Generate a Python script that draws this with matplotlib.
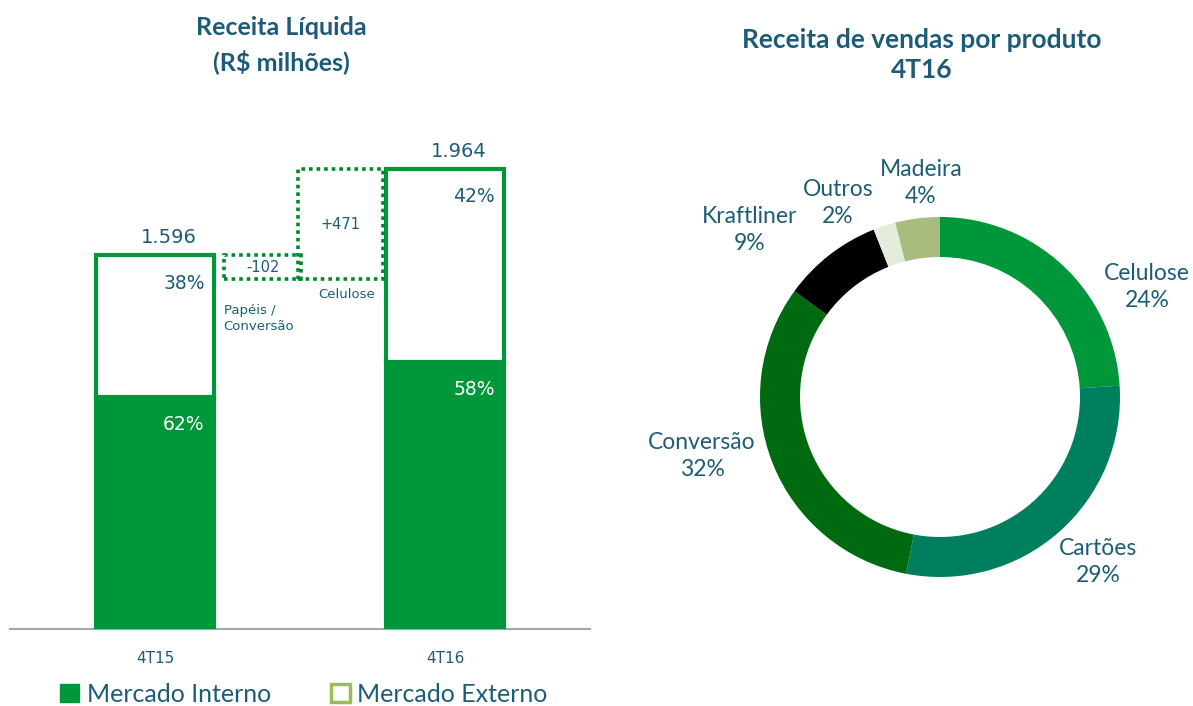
import matplotlib.pyplot as plt
from matplotlib.patches import Rectangle, Patch
import numpy as np

plt.rcParams['font.family'] = ['Lato', 'DejaVu Sans']

# bar chart data
periods = ['4T15', '4T16']
totals = [1596, 1964]
pct_interno = [62, 58]
pct_externo = [38, 42]
bridge_deltas = [-102, 471]
bridge_names = ['Papéis /\nConversão', 'Celulose']

# donut data
products = ['Celulose', 'Cartões', 'Conversão', 'Kraftliner', 'Outros', 'Madeira']
product_pct = [24, 29, 32, 9, 2, 4]
product_colors = ['#00963A', '#007F5F', '#006A10', '#000000', '#E4EDDA', '#A9BC7E']

TXT = '#1D5C78'
GREEN = '#00963A'
DOT = '#00882E'
W, H = 1193, 706

fig = plt.figure(figsize=(W / 100, H / 100), dpi=100)

# ---- left: stacked bars + bridge
ax = fig.add_axes([10 / W, 1 - 629 / H, 580 / W, 499 / H])
x = np.arange(len(periods))
interno = [t * p / 100 for t, p in zip(totals, pct_interno)]
externo = [t - i for t, i in zip(totals, interno)]
bw = 0.41
ax.bar(x, interno, bw, color=GREEN, edgecolor=GREEN, lw=3, zorder=2)
ax.bar(x, externo, bw, bottom=interno, color='white', edgecolor=GREEN, lw=3, zorder=2)

for i in range(len(periods)):
    ax.annotate(f'{totals[i]:,}'.replace(',', '.'), (x[i], totals[i]), xytext=(10, 6),
                textcoords='offset points', ha='center', va='bottom',
                fontsize=14, color=TXT, family='DejaVu Sans')
    ax.annotate(f'{pct_externo[i]}%', (x[i] + bw / 2, totals[i]), xytext=(-7, -13),
                textcoords='offset points', ha='right', va='top',
                fontsize=13.5, color=TXT, family='DejaVu Sans')
    ax.annotate(f'{pct_interno[i]}%', (x[i] + bw / 2, interno[i]), xytext=(-7, -13),
                textcoords='offset points', ha='right', va='top',
                fontsize=13.5, color='white', family='DejaVu Sans')

bridge_x = [(0.237, 0.505), (0.492, 0.785)]
running = totals[0]
for (x0, x1), d, name in zip(bridge_x, bridge_deltas, bridge_names):
    lo, hi = min(running, running + d), max(running, running + d)
    ax.add_patch(Rectangle((x0, lo), x1 - x0, hi - lo, fill=False, ec=DOT,
                           lw=2.6, ls=(0, (1, 1.1)), zorder=3))
    ax.text((x0 + x1) / 2, (lo + hi) / 2, f'{d:+d}', ha='center', va='center',
            fontsize=10.5, color=TXT, family='DejaVu Sans')
    if d < 0:
        ax.annotate(name, (x0, lo), xytext=(0, -18), textcoords='offset points',
                    ha='left', va='top', fontsize=9.5, color=TXT,
                    family='DejaVu Sans', linespacing=1.25)
    else:
        ax.annotate(name, ((x0 + x1) / 2, lo), xytext=(5, -6), textcoords='offset points',
                    ha='center', va='top', fontsize=9.5, color=TXT,
                    family='DejaVu Sans')
    running += d

ax.set_xlim(-0.5, 1.5)
ax.set_ylim(0, 2132)
ax.set_xticks(x, periods)
ax.set_yticks([])
ax.tick_params(axis='x', length=0, pad=16, labelsize=11, labelcolor=TXT)
for lab in ax.get_xticklabels():
    lab.set_family('DejaVu Sans')
for s in ['top', 'left', 'right']:
    ax.spines[s].set_visible(False)
ax.spines['bottom'].set_color('#A6A6A6')
ax.spines['bottom'].set_linewidth(1.5)
ax.spines['bottom'].set_zorder(1)

fig.text(281 / W, 1 - 45 / H, 'Receita Líquida\n(R\\$ milhões)', ha='center', va='center',
         fontsize=18, fontweight='bold', color=TXT, linespacing=1.45)

fig.legend(handles=[Patch(fc=GREEN, ec=GREEN), Patch(fc='white', ec='#9BBB59', lw=2.5)],
           labels=['Mercado Interno', 'Mercado Externo'], loc='center',
           bbox_to_anchor=(304 / W, 1 - 694 / H), ncol=2, frameon=False, fontsize=18,
           handlelength=0.75, handleheight=0.75, columnspacing=2.4, handletextpad=0.3,
           labelcolor=TXT)

# ---- right: donut
ax2 = fig.add_axes([690 / W, 59 / H, 500 / W, 500 / H])
ax2.pie(product_pct, colors=product_colors, startangle=90, counterclock=False, radius=1,
        wedgeprops=dict(width=40 / 180, edgecolor='none'))
lim = 250 / 180
ax2.set_xlim(-lim, lim)
ax2.set_ylim(-lim, lim)
ax2.set_aspect('equal')
ax2.axis('off')

label_px = [(1147, 287), (1098, 562), (702, 456), (750, 230), (838, 203), (921, 183)]
for name, p, (px, py) in zip(products, product_pct, label_px):
    ax2.text((px - 940) / 180, (397 - py) / 180, f'{name}\n{p}%', ha='center', va='center',
             fontsize=16.5, color=TXT, linespacing=1.35, clip_on=False)

fig.text(922 / W, 1 - 55 / H, 'Receita de vendas por produto\n4T16', ha='center', va='center',
         fontsize=19, fontweight='bold', color=TXT, linespacing=1.3)

fig.savefig('out.png', dpi=100)
